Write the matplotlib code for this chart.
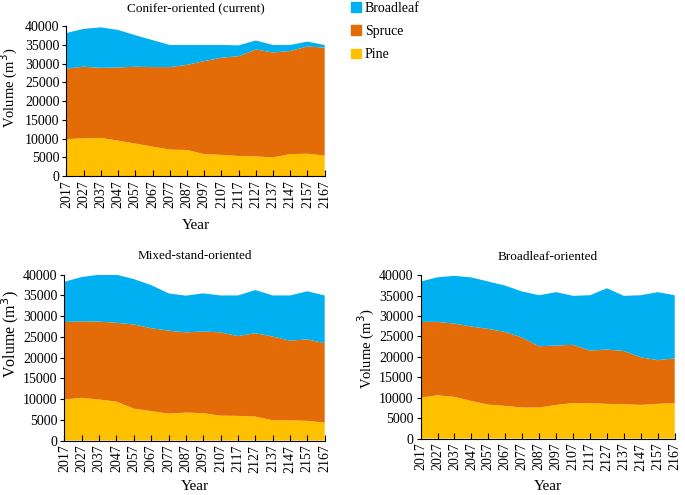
import matplotlib.pyplot as plt
from matplotlib.patches import Patch
import numpy as np

plt.rcParams['font.family'] = ['Liberation Serif', 'DejaVu Serif']

# 数据
years = list(range(2017, 2168, 10))
species = ["Pine", "Spruce", "Broadleaf"]
colors = ["#FFC000", "#E36C09", "#00B0F0"]

# cumulative tops: pine, pine+spruce, total
conifer_pine = [9900, 10100, 10200, 9500, 8700, 7900, 7100, 7000, 5900, 5700, 5400, 5300, 5000, 5900, 6000, 5500]
conifer_spruce_top = [28700, 29200, 28900, 29000, 29200, 29100, 29100, 29700, 30700, 31600, 32000, 33800, 33000, 33400, 34600, 34300]
conifer_total = [38200, 39300, 39700, 39000, 37600, 36300, 35000, 35000, 35000, 35000, 34900, 36200, 35000, 35000, 35900, 35000]

mixed_pine = [9900, 10300, 9900, 9400, 7700, 7100, 6500, 6750, 6600, 6000, 5950, 5800, 4900, 4900, 4750, 4300]
mixed_spruce_top = [28600, 28750, 28700, 28400, 28000, 27100, 26500, 26100, 26300, 26100, 25200, 25900, 25100, 24100, 24400, 23500]
mixed_total = [38300, 39450, 40000, 40000, 38950, 37500, 35500, 34950, 35500, 35000, 35000, 36300, 35000, 35000, 36000, 35000]

broad_pine = [10050, 10600, 10200, 9200, 8300, 8000, 7600, 7600, 8250, 8700, 8650, 8500, 8400, 8250, 8500, 8700]
broad_spruce_top = [28570, 28570, 28150, 27450, 26850, 26100, 24700, 22600, 22800, 22950, 21550, 21800, 21450, 19900, 19200, 19650]
broad_total = [38450, 39500, 39850, 39450, 38450, 37450, 36000, 35100, 35850, 34950, 35100, 36800, 34950, 35100, 35850, 35100]

# title, data, axes rect, ylabel (size, x, y), xlabel pad
panels = [
    ("Conifer-oriented (current)", conifer_pine, conifer_spruce_top, conifer_total,
     [0.097, 0.644, 0.377, 0.303], (10.5, -0.178, 0.59), 8),
    ("Mixed-stand-oriented", mixed_pine, mixed_spruce_top, mixed_total,
     [0.094, 0.110, 0.380, 0.335], (11.5, -0.168, 0.64), 5),
    ("Broadleaf-oriented", broad_pine, broad_spruce_top, broad_total,
     [0.614, 0.114, 0.371, 0.330], (10.5, -0.172, 0.55), 7),
]

fig = plt.figure(figsize=(6.85, 4.95), dpi=100)

for title, pine, spruce_top, total, rect, ylab, xpad in panels:
    pine = np.array(pine)
    spruce = np.array(spruce_top) - pine
    broad = np.array(total) - np.array(spruce_top)
    ax = fig.add_axes(rect)
    ax.stackplot(years, pine, spruce, broad, colors=colors, linewidth=0)
    ax.set_xlim(2017, 2167)
    ax.set_ylim(0, 40000)
    ax.set_xticks(years)
    ax.set_xticklabels([str(y) for y in years], rotation=90, fontsize=10)
    ax.set_yticks(range(0, 40001, 5000))
    ax.tick_params(axis="y", labelsize=10, length=3, direction="out", pad=2)
    ax.tick_params(axis="x", length=4, direction="in", pad=3)
    for s in ["top", "right"]:
        ax.spines[s].set_visible(False)
    ax.set_title(title, fontsize=9.5, pad=11)
    ax.set_xlabel("Year", fontsize=11, labelpad=xpad)
    ax.set_ylabel("Volume (m$^3$)", fontsize=ylab[0])
    ax.yaxis.set_label_coords(ylab[1], ylab[2])

handles = [Patch(color=c) for c in colors[::-1]]
fig.legend(handles, species[::-1], loc="upper left", bbox_to_anchor=(0.494, 1.022),
           frameon=False, fontsize=10, handlelength=0.7, handleheight=0.7,
           handletextpad=0.3, labelspacing=0.75)

plt.savefig("out.png", dpi=100)
